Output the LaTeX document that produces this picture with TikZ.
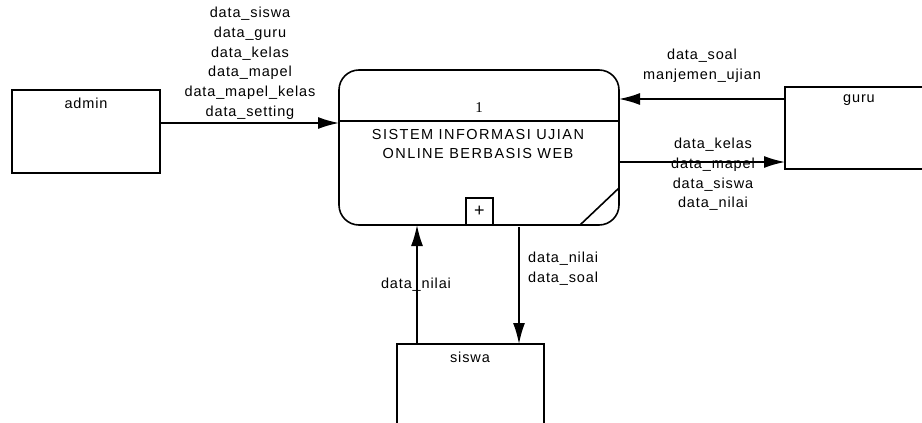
\documentclass[tikz,border=0pt]{standalone}
\usepackage{fontspec}
\setmainfont{Liberation Sans}[LetterSpace=6]
\newfontfamily\procfont{Liberation Sans}[LetterSpace=10]
\newfontfamily\numfont{Liberation Serif}
\usetikzlibrary{arrows.meta}
\begin{document}
\begin{tikzpicture}[x=1pt,y=-1pt,
  every node/.style={font=\fontsize{14.5}{19.7}\selectfont, inner sep=0pt},
  entbox/.style={draw, line width=1.6pt},
  flow/.style={draw, line width=1.6pt, -{Latex[length=21pt,width=12pt]}},
  lbl/.style={align=center}]
\useasboundingbox (0,0) rectangle (922,423);
% external entities
\draw[entbox] (12,90) rectangle (160,173);
\node (admin) at (86,103) {admin};
\draw[entbox] (785,87) rectangle (933,169);
\node (guru) at (859,100) {guru};
\draw[entbox] (397,344) rectangle (544,440);
\node (siswa) at (470,357) {siswa};
% process
\draw[line width=1.6pt, rounded corners=20pt] (339,70) rectangle (619,225);
\draw[line width=1.6pt] (339,121) -- (619,121);
\node[font=\numfont\fontsize{15}{16}\selectfont] (pnum) at (479,108) {1};
\node[lbl, font=\procfont\fontsize{14.5}{19.7}\selectfont] (ptext) at (478,144) {SISTEM INFORMASI UJIAN\\ONLINE BERBASIS WEB};
\draw[line width=1.6pt] (466,225) rectangle (493,198);
\node[font=\fontsize{18}{18}\selectfont] (plus) at (479.5,211) {+};
\draw[line width=1.6pt] (580,225) -- (619,188);
% named anchor coordinates
\coordinate (a1) at (160,123);
\coordinate (p1) at (339,123);
\coordinate (g1) at (785,99);
\coordinate (p2) at (619,99);
\coordinate (p3) at (619,162);
\coordinate (g2) at (785,162);
\coordinate (s1) at (417,344);
\coordinate (p4) at (417,225);
\coordinate (p5) at (519,227);
\coordinate (s2) at (519,344);
% flows
\draw[flow] (a1) -- (p1);
\draw[flow] (g1) -- (p2);
\draw[flow] (p3) -- (g2);
\draw[flow] (s1) -- (p4);
\draw[flow] (p5) -- (s2);
% labels
\node[lbl, anchor=north] at (250,7) {data\_siswa\\data\_guru\\data\_kelas\\data\_mapel\\data\_mapel\_kelas\\data\_setting};
\node[lbl, anchor=north] at (702,49) {data\_soal\\manjemen\_ujian};
\node[lbl, anchor=north] at (713,138) {data\_kelas\\data\_mapel\\data\_siswa\\data\_nilai};
\node at (416,285) {data\_nilai};
\node[lbl, anchor=north west] at (528,252) {data\_nilai\\data\_soal};
\end{tikzpicture}
\end{document}
